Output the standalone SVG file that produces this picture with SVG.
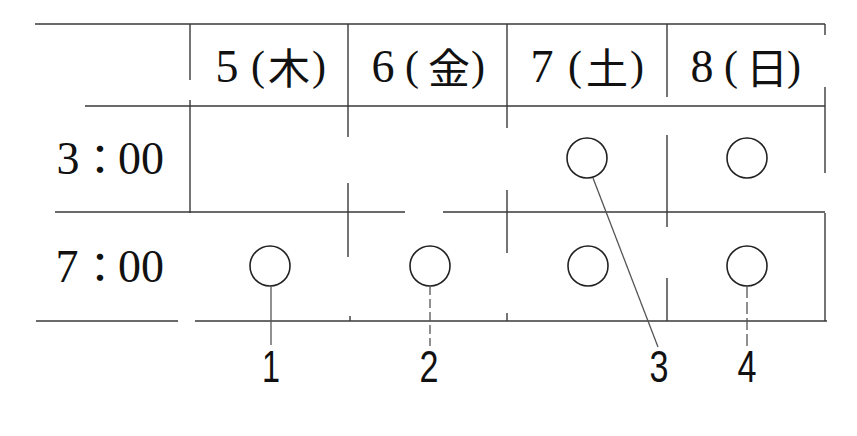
<svg xmlns="http://www.w3.org/2000/svg" width="857" height="436" viewBox="0 0 857 436">
<style>
.ln{stroke:#3a3a3a;stroke-width:1.4;fill:none}
.ld{stroke:#555;stroke-width:1.3;fill:none}
.cir{stroke:#222;stroke-width:1.6;fill:none}
.dg{font-family:"Liberation Serif","Times New Roman",serif;font-size:46px;fill:#111;text-anchor:middle}
.pr{font-family:"Liberation Serif","Times New Roman",serif;font-size:42px;fill:#111;text-anchor:middle}
.kj{font-family:"Noto Sans CJK JP","Noto Sans CJK SC",sans-serif;font-size:42px;fill:#111;text-anchor:middle}
.num{font-family:"Liberation Sans","DejaVu Sans",sans-serif;font-size:44px;fill:#111;text-anchor:middle}
</style>
<rect width="857" height="436" fill="#fff"/>
<g id="table">
<path class="ln" d="M35 24H825 M85 106H825 M55 212H405 M443 212H825 M36 321H178 M195 321H827"/>
<path class="ln" d="M190 24V80 M190 100V213 M348 24V137 M348 183V257 M350 316V321 M507 24V128 M507 190V253 M507 313V321 M667 24V97 M667 135V227 M667 278V321 M825 24V35 M825 87V173 M825 213V321"/>
</g>
<g id="header-5">
<text class="dg" x="227" y="82">5</text><text class="pr" x="258" y="80">(</text><text class="kj" x="289" y="84">木</text><text class="pr" x="319" y="80">)</text>
</g>
<g id="header-6">
<text class="dg" x="383" y="82">6</text><text class="pr" x="412" y="80">(</text><text class="kj" x="449" y="84">金</text><text class="pr" x="478" y="80">)</text>
</g>
<g id="header-7">
<text class="dg" x="542" y="82">7</text><text class="pr" x="575" y="80">(</text><text class="kj" x="607" y="84">土</text><text class="pr" x="637" y="80">)</text>
</g>
<g id="header-8">
<text class="dg" x="702" y="82">8</text><text class="pr" x="731" y="80">(</text><text class="kj" x="767" y="84">日</text><text class="pr" x="794" y="80">)</text>
</g>
<g id="row-3">
<text class="dg" x="68" y="174">3</text><text class="kj" x="100" y="175">：</text><text class="dg" x="141" y="174">00</text>
</g>
<g id="row-7">
<text class="dg" x="67" y="282">7</text><text class="kj" x="100" y="283">：</text><text class="dg" x="141" y="282">00</text>
</g>
<g id="node-3-7"><circle class="cir" cx="587" cy="158" r="20"/></g>
<g id="node-3-8"><circle class="cir" cx="747" cy="158" r="20"/></g>
<g id="node-7-5"><circle class="cir" cx="270" cy="266" r="20"/></g>
<g id="node-7-6"><circle class="cir" cx="430" cy="266" r="20"/></g>
<g id="node-7-7"><circle class="cir" cx="588" cy="266" r="20"/></g>
<g id="node-7-8"><circle class="cir" cx="747" cy="266" r="20"/></g>
<g id="connectors">
<path class="ld" d="M271 286V345"/>
<path class="ld" d="M430 286V346" stroke-dasharray="9 4"/>
<path class="ld" d="M593 178L658 347"/>
<path class="ld" d="M747 286V346" stroke-dasharray="12 4"/>
</g>
<g id="labels">
<text class="num" x="271" y="382" textLength="18" lengthAdjust="spacingAndGlyphs">1</text>
<text class="num" x="429" y="382" textLength="19" lengthAdjust="spacingAndGlyphs">2</text>
<text class="num" x="659" y="382" textLength="19" lengthAdjust="spacingAndGlyphs">3</text>
<text class="num" x="747" y="382" textLength="19" lengthAdjust="spacingAndGlyphs">4</text>
</g>
</svg>
